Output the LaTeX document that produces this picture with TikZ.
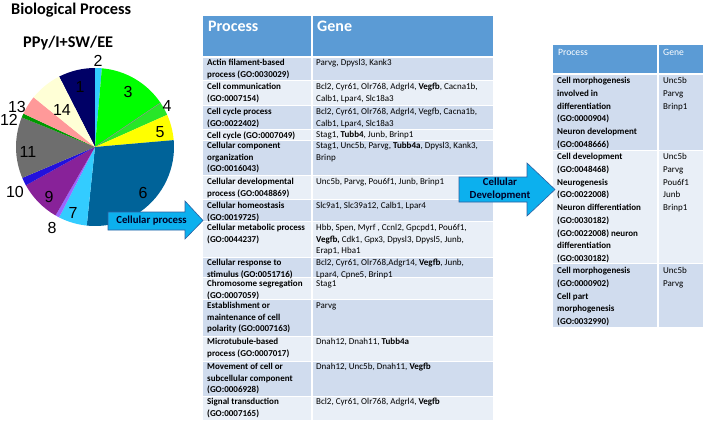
\documentclass[tikz,border=0pt]{standalone}
\usepackage{fontspec}
\setmainfont{Carlito}
\newfontfamily\piefont{Liberation Sans}

\definecolor{hdrblue}{RGB}{91,155,213}
\definecolor{rowdark}{RGB}{208,220,238}
\definecolor{rowlight}{RGB}{233,239,247}
\definecolor{arrowfill}{RGB}{12,176,238}
\definecolor{arrowline}{RGB}{46,96,160}
\definecolor{sl1}{RGB}{0,0,102}
\definecolor{sl2}{RGB}{51,204,255}
\definecolor{sl3}{RGB}{0,255,0}
\definecolor{sl4}{RGB}{40,230,40}
\definecolor{sl5}{RGB}{255,255,0}
\definecolor{sl6}{RGB}{0,99,153}
\definecolor{sl7}{RGB}{51,204,255}
\definecolor{sl8}{RGB}{153,102,255}
\definecolor{sl9}{RGB}{136,34,153}
\definecolor{sl10}{RGB}{34,17,221}
\definecolor{sl11}{RGB}{110,110,110}
\definecolor{sl12}{RGB}{0,153,0}
\definecolor{sl13}{RGB}{255,153,153}
\definecolor{sl14}{RGB}{255,255,214}

\tikzset{
  proc/.style={anchor=north west, inner sep=0pt, align=left, font=\fontsize{9}{11.6}\selectfont\bfseries},
  gene/.style={anchor=north west, inner sep=0pt, align=left, font=\fontsize{9}{11.6}\selectfont},
  procb/.style={anchor=north west, inner sep=0pt, align=left, font=\fontsize{9}{12.75}\selectfont\bfseries},
  geneb/.style={anchor=north west, inner sep=0pt, align=left, font=\fontsize{9}{12.75}\selectfont},
  piecount/.style={inner sep=0pt, font=\fontsize{16}{16}\selectfont\piefont},
  blockarrow/.style={fill=arrowfill, draw=arrowline, line width=0.6pt},
  arrowtext/.style={inner sep=0pt, align=center, text=black!85!blue, font=\fontsize{10.8}{13}\selectfont\bfseries}
}

\begin{document}
\begin{tikzpicture}[x=1pt, y=-1pt]
\useasboundingbox (0,0) rectangle (708,423);

% Titles
\node[anchor=west, inner sep=0pt, font=\fontsize{16.3}{18}\selectfont\bfseries] (title) at (11,10) {Biological Process};
\node[anchor=west, inner sep=0pt, font=\fontsize{16.3}{18}\selectfont\bfseries] (group) at (23,43) {PPy/I+SW/EE};

% Pie, clockwise from slice 1
\begin{scope}[shift={(95,147)}, yscale=-1]
\fill[sl1] (0,0) -- (117:79) arc[start angle=117, end angle=90, radius=79] -- cycle;
\fill[sl2] (0,0) -- (90:79) arc[start angle=90, end angle=85, radius=79] -- cycle;
\fill[sl3] (0,0) -- (85:79) arc[start angle=85, end angle=34, radius=79] -- cycle;
\fill[sl4] (0,0) -- (34:79) arc[start angle=34, end angle=24, radius=79] -- cycle;
\draw[black!45, line width=0.5pt] (0,0) -- (34:79);
\fill[sl5] (0,0) -- (24:79) arc[start angle=24, end angle=5, radius=79] -- cycle;
\fill[sl6] (0,0) -- (5:79) arc[start angle=5, end angle=-96, radius=79] -- cycle;
\fill[sl7] (0,0) -- (-96:79) arc[start angle=-96, end angle=-117, radius=79] -- cycle;
\fill[sl8] (0,0) -- (-117:79) arc[start angle=-117, end angle=-120, radius=79] -- cycle;
\fill[sl9] (0,0) -- (-120:79) arc[start angle=-120, end angle=-151, radius=79] -- cycle;
\fill[sl10] (0,0) -- (-151:79) arc[start angle=-151, end angle=-157, radius=79] -- cycle;
\fill[sl11] (0,0) -- (-157:79) arc[start angle=-157, end angle=-202, radius=79] -- cycle;
\fill[sl12] (0,0) -- (158:79) arc[start angle=158, end angle=155, radius=79] -- cycle;
\fill[sl13] (0,0) -- (155:79) arc[start angle=155, end angle=141, radius=79] -- cycle;
\fill[sl14] (0,0) -- (141:79) arc[start angle=141, end angle=117, radius=79] -- cycle;
\end{scope}

% Slice numbers
\node[piecount] (n1) at (80,87) {1};
\node[piecount] (n2) at (98,61) {2};
\node[piecount] (n3) at (128,92) {3};
\node[piecount] (n4) at (167,106) {4};
\node[piecount] (n5) at (160,132) {5};
\node[piecount] (n6) at (143,193) {6};
\node[piecount] (n7) at (73,213) {7};
\node[piecount] (n8) at (52,228) {8};
\node[piecount] (n9) at (49,197) {9};
\node[piecount] (n10) at (15,192) {10};
\node[piecount] (n11) at (28,152) {11};
\node[piecount] (n12) at (9,120) {12};
\node[piecount] (n13) at (17,107) {13};
\node[piecount] (n14) at (62,110) {14};

% Big table: header and row fills
\fill[hdrblue] (203,16) rectangle (493,56);
\fill[rowdark] (203,58) rectangle (493,80);
\fill[rowlight] (203,81) rectangle (493,105);
\fill[rowdark] (203,106) rectangle (493,129);
\fill[rowlight] (203,130) rectangle (493,140);
\fill[rowdark] (203,141) rectangle (493,175);
\fill[rowlight] (203,176) rectangle (493,199);
\fill[rowdark] (203,200) rectangle (493,221);
\fill[rowlight] (203,222) rectangle (493,257);
\fill[rowdark] (203,258) rectangle (493,277);
\fill[rowlight] (203,278) rectangle (493,299);
\fill[rowdark] (203,300) rectangle (493,336);
\fill[rowlight] (203,337) rectangle (493,361);
\fill[rowdark] (203,362) rectangle (493,396);
\fill[rowlight] (203,397) rectangle (493,420);
\draw[white, line width=1.2pt] (312,16) -- (312,420);

% Big table: header text
\node[anchor=west, inner sep=0pt, text=white, font=\fontsize{16}{18}\selectfont\bfseries] (hproc) at (208,26) {Process};
\node[anchor=west, inner sep=0pt, text=white, font=\fontsize{16}{18}\selectfont\bfseries] (hgene) at (317,26) {Gene};

% Big table: rows top to bottom
\node[proc] (p1) at (207,59.2) {Actin filament-based\\process (GO:0030029)};
\node[gene] (g1) at (316,59.2) {Parvg, Dpysl3, Kank3};

\node[proc] (p2) at (207,83.2) {Cell communication\\(GO:0007154)};
\node[gene] (g2) at (316,83.2) {Bcl2, Cyr61, Olr768, Adgrl4, \textbf{Vegfb}, Cacna1b,\\Calb1, Lpar4, Slc18a3};

\node[proc] (p3) at (207,108.2) {Cell cycle process\\(GO:0022402)};
\node[gene] (g3) at (316,108.2) {Bcl2, Cyr61, Olr768, Adgrl4, Vegfb, Cacna1b,\\Calb1, Lpar4, Slc18a3};

\node[proc] (p4) at (207,131.2) {Cell cycle (GO:0007049)};
\node[gene] (g4) at (316,131.2) {Stag1, \textbf{Tubb4}, Junb, Brinp1};

\node[proc] (p5) at (207,142.2) {Cellular component\\organization\\(GO:0016043)};
\node[gene] (g5) at (316,142.2) {Stag1, Unc5b, Parvg, \textbf{Tubb4a}, Dpysl3, Kank3,\\Brinp};

\node[proc] (p6) at (207,178.2) {Cellular developmental\\process (GO:0048869)};
\node[gene] (g6) at (316,178.2) {Unc5b, Parvg, Pou6f1, Junb, Brinp1};

\node[proc] (p7) at (207,202.2) {Cellular homeostasis\\(GO:0019725)};
\node[gene] (g7) at (316,202.2) {Slc9a1, Slc39a12, Calb1, Lpar4};

\node[proc] (p8) at (207,224.2) {Cellular metabolic process\\(GO:0044237)};
\node[gene] (g8) at (316,224.2) {Hbb, Spen, Myrf , Ccnl2, Gpcpd1, Pou6f1,\\\textbf{Vegfb,} Cdk1, Gpx3, Dpysl3, Dpysl5, Junb,\\Erap1, Hba1};

\node[proc] (p9) at (207,259.2) {Cellular response to\\stimulus (GO:0051716)};
\node[gene] (g9) at (316,259.2) {Bcl2, Cyr61, Olr768,Adgr14, \textbf{Vegfb}, Junb,\\Lpar4, Cpne5, Brinp1};

\node[proc] (p10) at (207,280.2) {Chromosome segregation\\(GO:0007059)};
\node[gene] (g10) at (316,280.2) {Stag1};

\node[proc] (p11) at (207,302.2) {Establishment or\\maintenance of cell\\polarity (GO:0007163)};
\node[gene] (g11) at (316,302.2) {Parvg};

\node[proc] (p12) at (207,338.2) {Microtubule-based\\process (GO:0007017)};
\node[gene] (g12) at (316,338.2) {Dnah12, Dnah11, \textbf{Tubb4a}};

\node[proc] (p13) at (207,363.2) {Movement of cell or\\subcellular component\\(GO:0006928)};
\node[gene] (g13) at (316,363.2) {Dnah12, Unc5b, Dnah11, \textbf{Vegfb}};

\node[proc] (p14) at (207,398.2) {Signal transduction\\(GO:0007165)};
\node[gene] (g14) at (316,398.2) {Bcl2, Cyr61, Olr768, Adgrl4, \textbf{Vegfb}};

% Small table: header and row fills
\fill[hdrblue] (553,45) rectangle (703,73);
\fill[rowdark] (553,75) rectangle (703,150);
\fill[rowlight] (553,151) rectangle (703,263);
\fill[rowdark] (553,264) rectangle (703,327);
\draw[white, line width=1.2pt] (658,45) -- (658,327);

\node[anchor=west, inner sep=0pt, text=white, font=\fontsize{9.6}{11}\selectfont] (hproc2) at (558,52) {Process};
\node[anchor=west, inner sep=0pt, text=white, font=\fontsize{9.6}{11}\selectfont] (hgene2) at (663,52) {Gene};

% Small table: rows top to bottom
\node[procb] (q1) at (557,77.2) {Cell morphogenesis\\involved in\\differentiation\\(GO:0000904)\\Neuron development\\(GO:0048666)};
\node[geneb] (h1) at (663,77.2) {Unc5b\\Parvg\\Brinp1};

\node[procb] (q2) at (557,153.2) {Cell development\\(GO:0048468)\\Neurogenesis\\(GO:0022008)\\Neuron differentiation\\(GO:0030182)\\(GO:0022008) neuron\\differentiation\\(GO:0030182)};
\node[geneb] (h2) at (663,153.2) {Unc5b\\Parvg\\Pou6f1\\Junb\\Brinp1};

\node[procb] (q3) at (557,267.2) {Cell morphogenesis\\(GO:0000902)\\Cell part\\morphogenesis\\(GO:0032990)};
\node[geneb] (h3) at (663,267.2) {Unc5b\\Parvg};

% Block arrows
\draw[blockarrow] (108,212) -- (185,212) -- (185,201) -- (203,220.5) -- (185,239) -- (185,230) -- (108,230) -- cycle;
\node[arrowtext] (cellproc) at (151.5,221) {Cellular process};

\draw[blockarrow] (459,177) -- (527,177) -- (527,163) -- (555,189.5) -- (527,216) -- (527,202) -- (459,202) -- cycle;
\node[arrowtext] (celldev) at (500,189.5) {Cellular\\Development};
\end{tikzpicture}
\end{document}
